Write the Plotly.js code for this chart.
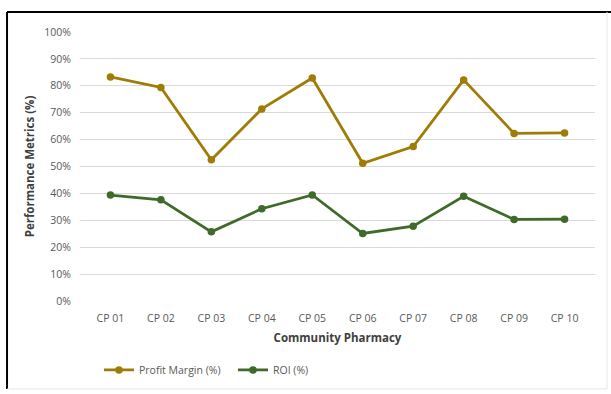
<!DOCTYPE html>
<html>
<head>
<meta charset="utf-8">
<script src="https://cdn.plot.ly/plotly-3.0.1.min.js"></script>
<style>
html,body{margin:0;padding:0;background:#fff;}
#chart{width:611px;height:394px;}
</style>
</head>
<body>
<div id="chart"></div>
<script>
const categories = ["CP 01","CP 02","CP 03","CP 04","CP 05","CP 06","CP 07","CP 08","CP 09","CP 10"];
const profitMargin = [0.833, 0.794, 0.525, 0.714, 0.829, 0.512, 0.574, 0.822, 0.623, 0.625];
const roi = [0.394, 0.376, 0.257, 0.343, 0.394, 0.251, 0.278, 0.389, 0.303, 0.304];
const yTicks = [0,0.1,0.2,0.3,0.4,0.5,0.6,0.7,0.8,0.9,1.0];

const font = "Open Sans, Liberation Sans, sans-serif";
const grey = "#595959";

const traces = [
  {x: categories, y: profitMargin, name: "Profit Margin (%)", type: "scatter", mode: "lines+markers",
   line: {color: "#9E7C06", width: 2.75}, marker: {color: "#9E7C06", size: 7.5}},
  {x: categories, y: roi, name: "ROI (%)", type: "scatter", mode: "lines+markers",
   line: {color: "#3F6A2A", width: 2.75}, marker: {color: "#3F6A2A", size: 7.5}}
];

const layout = {
  width: 611, height: 394,
  margin: {l: 80, r: 16, t: 32, b: 93},
  paper_bgcolor: "#fff", plot_bgcolor: "#fff",
  font: {family: font, color: grey, size: 10.5},
  showlegend: true,
  legend: {orientation: "h", xref: "container", yref: "container", x: 0.162, y: 0.061,
           xanchor: "left", yanchor: "middle",
           font: {size: 10.5, color: grey}, itemwidth: 30, tracegroupgap: 0,
           entrywidth: 89, entrywidthmode: "pixels"},
  xaxis: {type: "category", showgrid: false, zeroline: false, showline: false,
          ticks: "", tickfont: {size: 10.5, color: grey}, ticklabelstandoff: 9,
          title: {text: "Community Pharmacy", font: {size: 11.5, color: "#404040", family: font, weight: "bold"}, standoff: 10}},
  yaxis: {range: [0, 1.0], tickvals: yTicks, tickformat: ".0%", showgrid: true, gridcolor: "#D9D9D9",
          gridwidth: 1, zeroline: false, showline: false, ticks: "", ticklen: 0,
          tickfont: {size: 10.5, color: grey}, ticklabelstandoff: 8,
          title: {text: "Performance Metrics (%)", font: {size: 11.5, color: "#404040", family: font, weight: "bold"}, standoff: 7}},
  shapes: [
    {type: "line", xref: "paper", yref: "paper", x0: -0.1417, x1: 1.06, y0: 1.0743, y1: 1.0743, line: {color: "#000", width: 2}},
    {type: "line", xref: "paper", yref: "paper", x0: -0.1417, x1: -0.1417, y0: 1.0743, y1: -0.327, line: {color: "#000", width: 2}},
    {type: "line", xref: "paper", yref: "paper", x0: 1.0233, x1: 1.0233, y0: 1.0743, y1: -0.327, line: {color: "#E6E6E6", width: 1}},
    {type: "line", xref: "paper", yref: "paper", x0: -0.1417, x1: 1.0233, y0: -0.327, y1: -0.327, line: {color: "#E6E6E6", width: 1}}
  ]
};

Plotly.newPlot("chart", traces, layout, {displayModeBar: false, staticPlot: true});
</script>
</body>
</html>
